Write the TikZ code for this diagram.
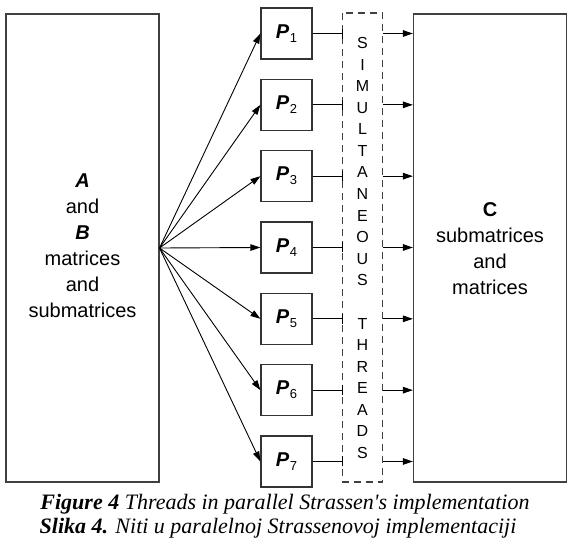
\documentclass[tikz,border=0pt]{standalone}
\usepackage{fontspec}
\setmainfont{Liberation Sans}
\newfontfamily\capfont{Liberation Serif}
\usetikzlibrary{arrows.meta}
\begin{document}
\begin{tikzpicture}[x=1pt,y=-1pt,
  bigbox/.style={draw=black!75,line width=1.2pt,inner sep=0pt},
  pbox/.style={draw=black!80,line width=1.2pt,minimum width=51pt,minimum height=51pt,inner sep=0pt,font=\fontsize{20}{24}\selectfont},
  fan/.style={line width=0.9pt,-{Triangle[length=10pt,width=6.5pt]}},
  tick/.style={line width=1pt},
  outarrow/.style={line width=1pt,-{Triangle[length=10pt,width=6.5pt]}},
  lbl/.style={font=\fontsize{20}{26}\selectfont,align=center},
  letter/.style={font=\fontsize{16}{16}\selectfont,inner sep=0pt}
]
\useasboundingbox (0,0) rectangle (576,544);
% left and right boxes
\node[bigbox,minimum width=153pt,minimum height=468pt] (L) at (82.5,248) {};
\node[bigbox,minimum width=153pt,minimum height=468pt] (R) at (490,248) {};
\node[lbl] (Ltext) at (82.5,246) {\textbf{\textit{A}}\\and\\\textbf{\textit{B}}\\matrices\\and\\submatrices};
\node[lbl] (Rtext) at (490,249) {\textbf{C}\\submatrices\\and\\matrices};
% fan origin
\coordinate (F) at (159.5,248);
% dashed box
\draw[line width=1.1pt,dash pattern=on 7pt off 5pt,draw=black!75] (342.5,13) rectangle (382.5,482);
\coordinate (DL) at (342.5,0);
\coordinate (DR) at (382.5,0);
% letters
\foreach \ch [count=\i from 0] in {S,I,M,U,L,T,A,N,E,O,U,S,{},T,H,R,E,A,D,S}{
  \node[letter] (ch\i) at (362.5,{43+\i*21.58}) {\ch};
}
% P boxes
\foreach \i in {1,...,7}{
  \node[pbox] (P\i) at (286.5,{33.5+(\i-1)*71.33}) {\textbf{\textit{P}}\kern0.5pt\raisebox{-4pt}{\fontsize{13}{13}\selectfont\i}};
  \draw[fan] (F) -- (P\i.west);
  \coordinate (T\i) at (DL |- P\i.east);
  \coordinate (S\i) at (DR |- P\i.east);
  \draw[tick] (P\i.east) -- (T\i);
  \draw[tick] ([yshift=-5pt]T\i) -- ([yshift=5pt]T\i);
  \draw[outarrow] (S\i) -- (R.west |- P\i.east);
}
% caption
\node[font=\capfont\fontsize{22}{26}\selectfont\itshape] (cap1) at (285,504) {\textbf{Figure 4} Threads in parallel Strassen's implementation};
\node[font=\capfont\fontsize{22}{26}\selectfont\itshape] (cap2) at (278,528) {\textbf{Slika 4.} Niti u paralelnoj Strassenovoj implementaciji};
\end{tikzpicture}
\end{document}
